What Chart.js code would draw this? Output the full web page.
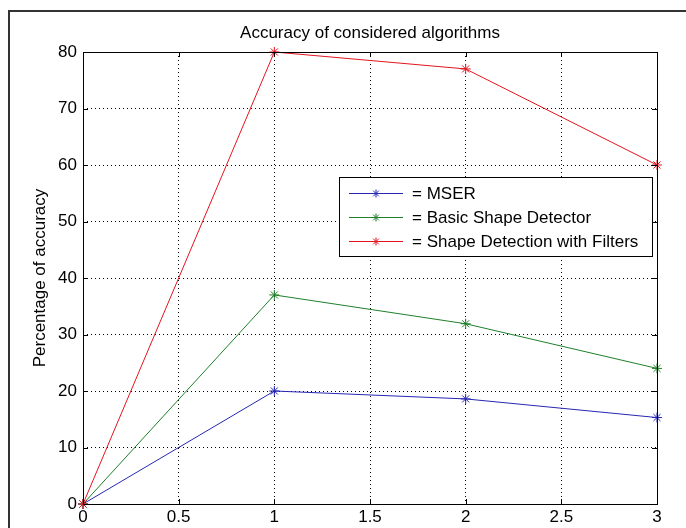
<!DOCTYPE html>
<html>
<head>
<meta charset="utf-8">
<script src="https://cdn.jsdelivr.net/npm/chart.js@4"></script>
<style>
  html, body { margin: 0; padding: 0; background: #fff; }
  #chart { display: block; }
</style>
</head>
<body>
<canvas id="chart" width="686" height="528"></canvas>
<script>
const xValues = [0, 1, 2, 3];
const mser = [0, 20, 18.6, 15.3];
const basicShape = [0, 37, 31.9, 24];
const shapeFilters = [0, 80, 77, 60];
const seriesLabels = ["= MSER", "= Basic Shape Detector", "= Shape Detection with Filters"];
const xTicks = [0, 0.5, 1, 1.5, 2, 2.5, 3];
const yTicks = [0, 10, 20, 30, 40, 50, 60, 70, 80];

const FONT = "'Liberation Sans', Arial, Helvetica, sans-serif";
const colors = ["#2626b4", "#1f7f2a", "#e3141e"];

function points(ys) {
  return xValues.map((x, i) => ({ x: x, y: ys[i] }));
}

// frame, plot box, inward ticks and the boxed legend, matlab style
const matlabLook = {
  id: "matlabLook",
  afterDraw(chart) {
    const ctx = chart.ctx;
    const a = chart.chartArea;
    const xs = chart.scales.x, ys = chart.scales.y;
    ctx.save();

    ctx.strokeStyle = "#333";
    ctx.lineWidth = 2;
    ctx.beginPath();
    ctx.moveTo(9, 600);
    ctx.lineTo(9, 11);
    ctx.lineTo(700, 11);
    ctx.stroke();

    ctx.strokeStyle = "#000";
    ctx.lineWidth = 1;
    ctx.strokeRect(Math.round(a.left) + 0.5, Math.round(a.top) + 0.5,
      Math.round(a.right - a.left), Math.round(a.bottom - a.top));

    const tl = 5;
    ctx.beginPath();
    xTicks.forEach(v => {
      const px = Math.round(xs.getPixelForValue(v)) + 0.5;
      ctx.moveTo(px, a.bottom); ctx.lineTo(px, a.bottom - tl);
      ctx.moveTo(px, a.top); ctx.lineTo(px, a.top + tl);
    });
    yTicks.forEach(v => {
      const py = Math.round(ys.getPixelForValue(v)) + 0.5;
      ctx.moveTo(a.left, py); ctx.lineTo(a.left + tl, py);
      ctx.moveTo(a.right, py); ctx.lineTo(a.right - tl, py);
    });
    ctx.stroke();

    // legend box
    const bx = 339.5, by = 177.5, bw = 313, bh = 79;
    ctx.fillStyle = "#fff";
    ctx.fillRect(bx, by, bw, bh);
    ctx.strokeRect(bx, by, bw, bh);
    const rows = [193, 217, 241];
    ctx.font = "17px " + FONT;
    ctx.textBaseline = "middle";
    chart.data.datasets.forEach((ds, i) => {
      const y = rows[i] + 0.5;
      ctx.strokeStyle = ds.borderColor;
      ctx.lineWidth = 1;
      ctx.beginPath();
      ctx.moveTo(349, y); ctx.lineTo(403, y);
      ctx.stroke();
      Chart.helpers.drawPoint(ctx, { pointStyle: "star", radius: 4, borderWidth: 1 }, 376, y);
      ctx.fillStyle = "#000";
      ctx.fillText(ds.label, 412, rows[i] + 1);
    });
    ctx.restore();
  }
};

new Chart(document.getElementById("chart"), {
  type: "line",
  data: {
    datasets: [
      { label: seriesLabels[0], data: points(mser), borderColor: colors[0], backgroundColor: colors[0], order: 3 },
      { label: seriesLabels[1], data: points(basicShape), borderColor: colors[1], backgroundColor: colors[1], order: 2 },
      { label: seriesLabels[2], data: points(shapeFilters), borderColor: colors[2], backgroundColor: colors[2], order: 1 }
    ]
  },
  options: {
    responsive: false,
    animation: false,
    layout: { padding: { left: 28, top: 0, right: 29, bottom: 0 } },
    elements: {
      line: { borderWidth: 1, tension: 0, fill: false },
      point: { pointStyle: "star", radius: 5, borderWidth: 1, hoverRadius: 5 }
    },
    datasets: { line: { clip: false } },
    plugins: {
      legend: { display: false },
      tooltip: { enabled: false },
      title: {
        display: true,
        fullSize: false,
        text: "Accuracy of considered algorithms",
        color: "#000",
        font: { family: FONT, size: 17, weight: "normal", lineHeight: 1.2 },
        padding: { top: 23, bottom: 8.6 }
      }
    },
    scales: {
      x: {
        type: "linear",
        min: 0,
        max: 3,
        afterBuildTicks: s => { s.ticks = xTicks.map(v => ({ value: v })); },
        afterFit: s => { s.height = 24; },
        ticks: {
          color: "#000",
          padding: 3,
          maxRotation: 0,
          font: { family: FONT, size: 17 },
          callback: v => String(v)
        },
        grid: { color: "#000", lineWidth: 1, drawTicks: false },
        border: { display: false, dash: [1, 3] }
      },
      y: {
        min: 0,
        max: 80,
        afterBuildTicks: s => { s.ticks = yTicks.map(v => ({ value: v })); },
        afterFit: s => { s.width = 55; },
        ticks: {
          color: "#000",
          padding: 6,
          font: { family: FONT, size: 17 },
          callback: v => String(v)
        },
        grid: { color: "#000", lineWidth: 1, drawTicks: false },
        border: { display: false, dash: [1, 3] },
        title: {
          display: true,
          text: "Percentage of accuracy",
          color: "#000",
          font: { family: FONT, size: 17 },
          padding: { top: 2, bottom: 0 }
        }
      }
    }
  },
  plugins: [matlabLook]
});
</script>
</body>
</html>
